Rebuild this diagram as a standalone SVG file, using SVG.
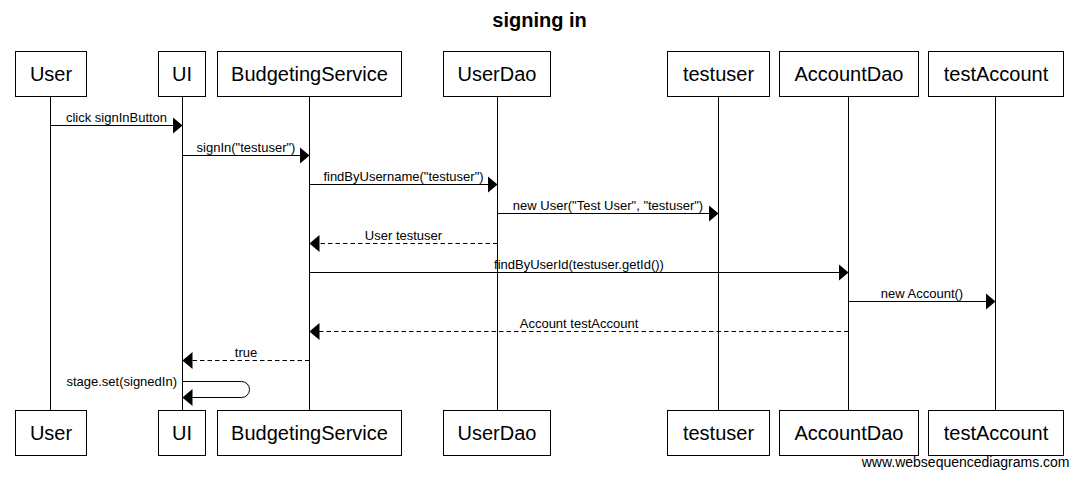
<svg xmlns="http://www.w3.org/2000/svg" width="1078" height="480" viewBox="0 0 1078 480">
<style>
  text { font-family: "Liberation Sans", Arial, sans-serif; fill: #000; }
  .title { font-size: 20px; font-weight: bold; text-anchor: middle; }
  .pname { font-size: 20px; text-anchor: middle; }
  .msg { font-size: 13px; text-anchor: middle; }
  .msgr { font-size: 13px; text-anchor: end; }
  .foot { font-size: 14px; text-anchor: end; }
  .box { fill: #fff; stroke: #000; stroke-width: 1; }
  .life { stroke: #000; stroke-width: 1; fill: none; }
  .call { stroke: #000; stroke-width: 1; fill: none; marker-end: url(#arrow); }
  .ret { stroke: #000; stroke-width: 1; fill: none; stroke-dasharray: 4.5,3; marker-end: url(#arrow); }
</style>
<defs>
  <marker id="arrow" viewBox="0 0 10 17" refX="10" refY="8.5" markerWidth="10" markerHeight="17" markerUnits="userSpaceOnUse" orient="auto">
    <polygon points="0,0 10,8.5 0,17" fill="#000" stroke="none"/>
  </marker>
</defs>
<rect width="1078" height="480" fill="#fff"/>
<text class="title" x="539.5" y="27">signing in</text>

<g id="lifelines">
  <line class="life" x1="50.5" y1="96.5" x2="50.5" y2="410.5"/>
  <line class="life" x1="182.5" y1="96.5" x2="182.5" y2="410.5"/>
  <line class="life" x1="309.5" y1="96.5" x2="309.5" y2="410.5"/>
  <line class="life" x1="497.5" y1="96.5" x2="497.5" y2="410.5"/>
  <line class="life" x1="718.5" y1="96.5" x2="718.5" y2="410.5"/>
  <line class="life" x1="848.5" y1="96.5" x2="848.5" y2="410.5"/>
  <line class="life" x1="995.5" y1="96.5" x2="995.5" y2="410.5"/>
</g>

<g id="User">
  <rect class="box" x="15.5" y="51.5" width="71" height="45"/>
  <text class="pname" x="51" y="81">User</text>
  <rect class="box" x="15.5" y="410.5" width="71" height="45"/>
  <text class="pname" x="51" y="440">User</text>
</g>
<g id="UI">
  <rect class="box" x="158.5" y="51.5" width="47" height="45"/>
  <text class="pname" x="182" y="81">UI</text>
  <rect class="box" x="158.5" y="410.5" width="47" height="45"/>
  <text class="pname" x="182" y="440">UI</text>
</g>
<g id="BudgetingService">
  <rect class="box" x="217.5" y="51.5" width="184" height="45"/>
  <text class="pname" x="309.5" y="81">BudgetingService</text>
  <rect class="box" x="217.5" y="410.5" width="184" height="45"/>
  <text class="pname" x="309.5" y="440">BudgetingService</text>
</g>
<g id="UserDao">
  <rect class="box" x="443.5" y="51.5" width="107" height="45"/>
  <text class="pname" x="497" y="81">UserDao</text>
  <rect class="box" x="443.5" y="410.5" width="107" height="45"/>
  <text class="pname" x="497" y="440">UserDao</text>
</g>
<g id="testuser">
  <rect class="box" x="667.5" y="51.5" width="102" height="45"/>
  <text class="pname" x="718.5" y="81">testuser</text>
  <rect class="box" x="667.5" y="410.5" width="102" height="45"/>
  <text class="pname" x="718.5" y="440">testuser</text>
</g>
<g id="AccountDao">
  <rect class="box" x="779.5" y="51.5" width="139" height="45"/>
  <text class="pname" x="849" y="81">AccountDao</text>
  <rect class="box" x="779.5" y="410.5" width="139" height="45"/>
  <text class="pname" x="849" y="440">AccountDao</text>
</g>
<g id="testAccount">
  <rect class="box" x="928.5" y="51.5" width="135" height="45"/>
  <text class="pname" x="996" y="81">testAccount</text>
  <rect class="box" x="928.5" y="410.5" width="135" height="45"/>
  <text class="pname" x="996" y="440">testAccount</text>
</g>

<g id="connectors">
  <line class="call" x1="50.5" y1="125.5" x2="182.5" y2="125.5"/>
  <text class="msg" x="116.5" y="121.5">click signInButton</text>

  <line class="call" x1="182.5" y1="155.5" x2="309.5" y2="155.5"/>
  <text class="msg" x="246" y="151.5">signIn("testuser")</text>

  <line class="call" x1="309.5" y1="184.5" x2="497.5" y2="184.5"/>
  <text class="msg" x="403.5" y="180.5">findByUsername("testuser")</text>

  <line class="call" x1="497.5" y1="213.5" x2="718.5" y2="213.5"/>
  <text class="msg" x="608" y="209.5">new User("Test User", "testuser")</text>

  <line class="ret" x1="497.5" y1="243.5" x2="309.5" y2="243.5"/>
  <text class="msg" x="403.5" y="239.5">User testuser</text>

  <line class="call" x1="309.5" y1="272.5" x2="848.5" y2="272.5"/>
  <text class="msg" x="579" y="268.5">findByUserId(testuser.getId())</text>

  <line class="call" x1="848.5" y1="301.5" x2="995.5" y2="301.5"/>
  <text class="msg" x="922" y="297.5">new Account()</text>

  <line class="ret" x1="848.5" y1="331.5" x2="309.5" y2="331.5"/>
  <text class="msg" x="579" y="327.5">Account testAccount</text>

  <line class="ret" x1="309.5" y1="360.5" x2="182.5" y2="360.5"/>
  <text class="msg" x="246" y="356.5">true</text>

  <path class="call" d="M182.5,381.5 H241.5 A8,8 0 0 1 241.5,397.5 H182.5"/>
  <text class="msgr" x="177" y="385.5">stage.set(signedIn)</text>
</g>

<text class="foot" x="1069.5" y="467">www.websequencediagrams.com</text>
</svg>
